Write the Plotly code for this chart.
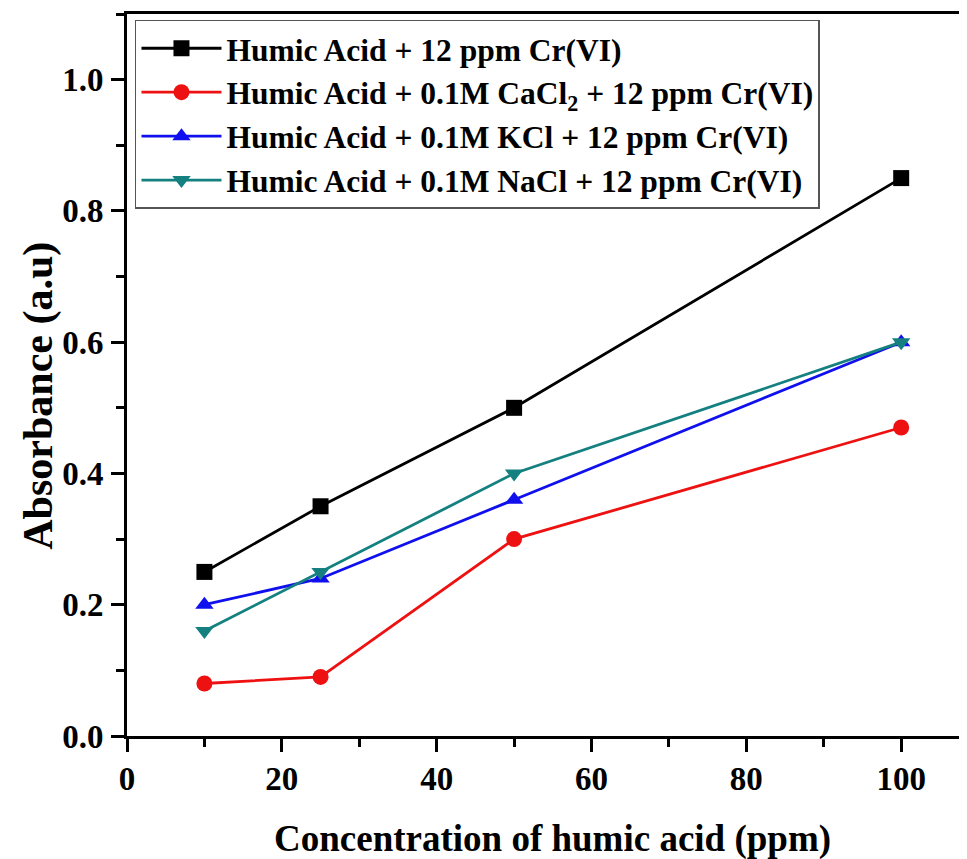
import plotly.graph_objects as go

concentration = [10, 25, 50, 100]
ha_cr = [0.25, 0.35, 0.50, 0.85]
ha_cacl2_cr = [0.08, 0.09, 0.30, 0.47]
ha_kcl_cr = [0.20, 0.24, 0.36, 0.60]
ha_nacl_cr = [0.16, 0.25, 0.40, 0.60]

x_ticks = [0, 20, 40, 60, 80, 100]
y_ticks = [0.0, 0.2, 0.4, 0.6, 0.8, 1.0]

names = [
    "Humic Acid + 12 ppm Cr(VI)",
    "Humic Acid + 0.1M CaCl<sub>2</sub> + 12 ppm Cr(VI)",
    "Humic Acid + 0.1M KCl + 12 ppm Cr(VI)",
    "Humic Acid + 0.1M NaCl + 12 ppm Cr(VI)",
]
series = [ha_cr, ha_cacl2_cr, ha_kcl_cr, ha_nacl_cr]
colors = ["#000000", "#EE1111", "#1010EE", "#148080"]
symbols = ["square", "circle", "triangle-up", "triangle-down"]

x_title = "Concentration of humic acid (ppm)"
y_title = "Absorbance (a.u)"

FONT = "Liberation Serif, Times New Roman, serif"

fig = go.Figure()
for i, (name, ys, c, s) in enumerate(zip(names, series, colors, symbols)):
    fig.add_trace(go.Scatter(
        x=concentration, y=ys, name=name, mode="lines+markers",
        legendgroup=f"g{i}",
        line=dict(color=c, width=2.8),
        marker=dict(symbol=s, size=16, color=c),
    ))

axis_common = dict(
    showline=True, linecolor="black", linewidth=3,
    ticks="outside", ticklen=13, tickwidth=3, tickcolor="black",
    showgrid=False, zeroline=False, automargin=False,
    tickfont=dict(family=FONT, size=33, color="black", weight="bold"),
)

# page body has an 8px margin, so the figure is 8px smaller than the window
fig.update_layout(
    width=959, height=851,
    margin=dict(l=119, r=0, t=6, b=123),
    plot_bgcolor="white", paper_bgcolor="white",
    font=dict(family=FONT, color="black"),
    showlegend=True,
    legend=dict(
        x=0.0095, y=0.992, xanchor="left", yanchor="top",
        bordercolor="#555", borderwidth=1.5, bgcolor="white",
        font=dict(family=FONT, size=31.5, color="black", weight="bold"),
        tracegroupgap=0, itemwidth=80,
    ),
    xaxis=dict(
        range=[0, 108.5], tickvals=x_ticks, mirror=True,
        minor=dict(ticks="outside", ticklen=8, tickwidth=3, tickcolor="black", dtick=10, tick0=0),
        ticklabelstandoff=-2,
        **axis_common,
    ),
    yaxis=dict(
        range=[0, 1.1], tickvals=y_ticks, tickformat=".1f", mirror=False,
        minor=dict(ticks="outside", ticklen=8, tickwidth=3, tickcolor="black", dtick=0.1, tick0=0),
        ticklabelstandoff=1,
        **axis_common,
    ),
    annotations=[
        dict(text=x_title, xref="paper", yref="paper", x=0.506, y=-0.142,
             xanchor="center", yanchor="middle", showarrow=False,
             font=dict(family=FONT, size=37, color="black", weight="bold")),
        dict(text=y_title, xref="paper", yref="paper", x=-0.105, y=0.471,
             xanchor="center", yanchor="middle", showarrow=False, textangle=-90,
             font=dict(family=FONT, size=42, color="black", weight="bold")),
    ],
)

fig.write_html("out.html")
